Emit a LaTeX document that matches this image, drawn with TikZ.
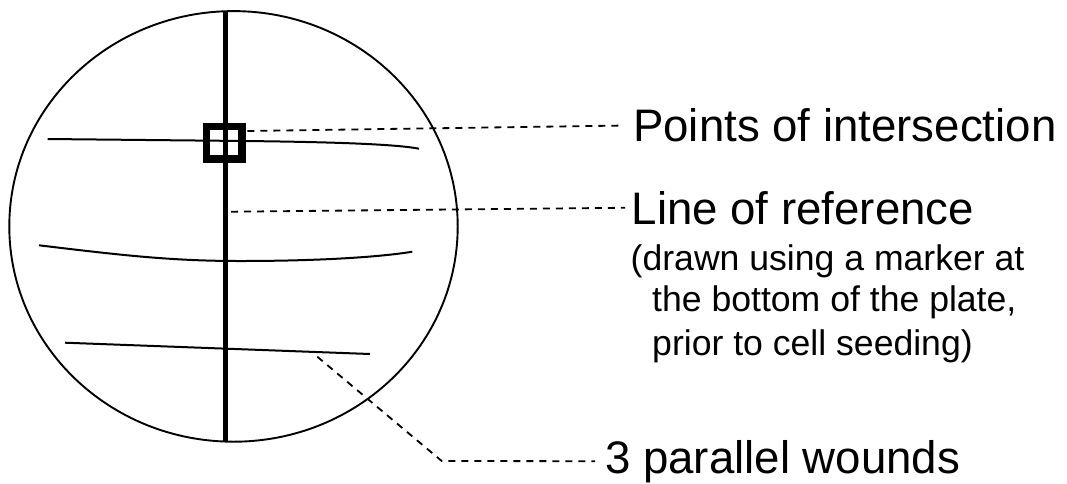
\documentclass[tikz,border=0pt]{standalone}
\usepackage{fontspec}
\setmainfont{Liberation Sans}
\usepackage{tikz}

\begin{document}
\begin{tikzpicture}[x=1pt,y=-1pt,
    plate/.style={black,line width=1.9pt},
    wound/.style={black,line width=2pt},
    leader/.style={black,line width=1.8pt,dash pattern=on 7pt off 6pt},
    biglabel/.style={anchor=base west,inner sep=0pt,font=\fontsize{45.6}{50}\selectfont},
    smalllabel/.style={anchor=base west,inner sep=0pt,font=\fontsize{35.6}{40}\selectfont}]
\useasboundingbox (0,0) rectangle (1067,483);

    % plate and line of reference
    \draw[plate] (233.5,226.4) ellipse[x radius=224.2,y radius=215.3];
    \draw[black,line width=5.2pt] (225.6,11) -- (225.6,442);

    % the three wounds
    \draw[wound] (47.7,139) -- (245,141) .. controls (330,142) and (395,144) .. (419,148.7);
    \draw[wound] (39,245.3) .. controls (120,255) and (170,261) .. (240,261)
                            .. controls (320,261) and (380,257) .. (412.3,251.7);
    \draw[wound] (65,342.7) -- (370,354);

    \node[draw,line width=7.4pt,inner sep=0pt,minimum width=35.5,minimum height=32.5] (isect) at (224.2,142.7) {};

    % labels
    \node[biglabel] (points) at (633,141.7) {Points of intersection};
    \node[biglabel] (ref) at (631.6,224) {Line of reference};
    \node[smalllabel] (note1) at (630.5,270) {(drawn using a marker at};
    \node[smalllabel] (note2) at (652,311.7) {the bottom of the plate,};
    \node[smalllabel] (note3) at (652,355) {prior to cell seeding)};
    \node[biglabel] (wounds) at (605,473) {3 parallel wounds};

    \coordinate (isectend) at (247.3,131);
    \coordinate (refend) at (231,211.7);
    \coordinate (woundend) at (317.3,356.7);
    \coordinate (bend) at (441.7,461);

    \draw[leader,shorten >=13pt] (isectend) -- (points.west);
    \draw[leader,shorten >=6.6pt] (refend) -- (ref.west);
    \draw[leader,shorten >=10pt] (woundend) -- (bend) -- (wounds.west);
\end{tikzpicture}
\end{document}
